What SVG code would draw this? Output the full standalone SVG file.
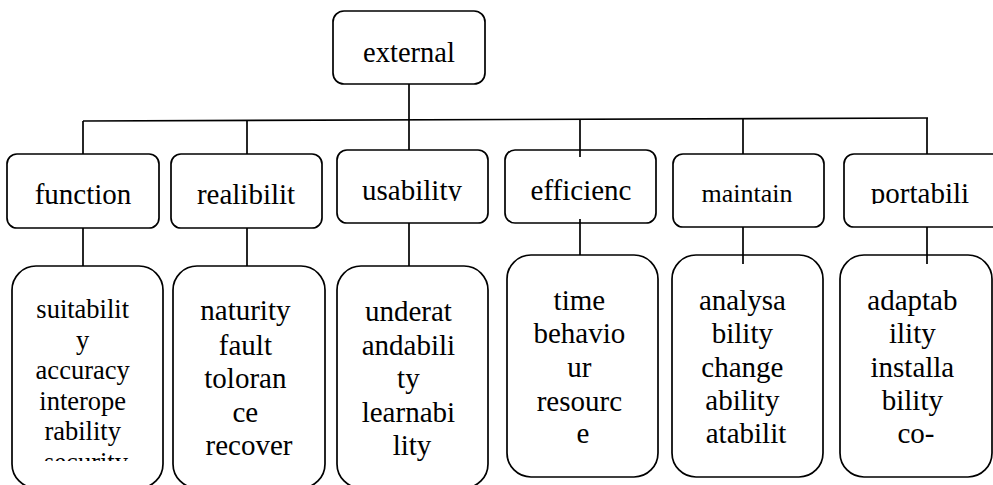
<svg xmlns="http://www.w3.org/2000/svg" width="993" height="485" viewBox="0 0 993 485">
<style>
.box{fill:#fff;stroke:#000;stroke-width:1.7}
.ln{stroke:#000;stroke-width:1.7;fill:none}
.tx{fill:#000;text-anchor:middle}
.t1{font-size:28.5px}
.t2{font-size:29px}
.t3{font-size:26.5px}
.t4{font-size:26px}
</style>
<defs>
<clipPath id="c-usab"><rect x="337" y="150" width="151" height="51"/></clipPath>
<clipPath id="c-port"><rect x="844" y="154" width="149" height="50"/></clipPath>
<clipPath id="c-func"><rect x="12" y="266" width="151" height="195"/></clipPath>
</defs>
<rect width="993" height="485" fill="#fff"/>
<g id="n-external">
<rect class="box" x="333" y="11" width="152" height="73" rx="11"/>
<text class="tx t1" font-family="Liberation Serif" x="409" y="62">external</text>
</g>
<g id="n-function">
<rect class="box" x="7" y="154" width="152" height="74" rx="10"/>
<text class="tx t2" font-family="Liberation Serif" x="83" y="204">function</text>
</g>
<g id="n-realibilit">
<rect class="box" x="171" y="154" width="151" height="74" rx="10"/>
<text class="tx t2" font-family="Liberation Serif" x="246" y="204">realibilit</text>
</g>
<g id="n-usability">
<rect class="box" x="337" y="150" width="151" height="73" rx="10"/>
<text class="tx t2" font-family="Liberation Serif" x="412" y="200" clip-path="url(#c-usab)">usability</text>
</g>
<g id="n-efficienc">
<rect class="box" x="505" y="150" width="151" height="73" rx="10"/>
<text class="tx t2" font-family="Liberation Serif" x="581" y="200">efficienc</text>
</g>
<g id="n-maintain">
<rect class="box" x="673" y="154" width="151" height="73" rx="10"/>
<text class="tx t4" font-family="Liberation Serif" x="747" y="202">maintain</text>
</g>
<g id="n-portabili">
<rect class="box" x="844" y="154" width="160" height="73" rx="10"/>
<text class="tx t2" font-family="Liberation Serif" x="920" y="203" clip-path="url(#c-port)">portabili</text>
</g>
<g id="n-func-sub">
<rect class="box" x="12" y="266" width="151" height="222" rx="24"/>
<text class="tx t3" font-family="Liberation Serif" clip-path="url(#c-func)">
<tspan x="86" y="318">suitabilit</tspan>
<tspan x="86" y="349">y</tspan>
<tspan x="86" y="379">accuracy</tspan>
<tspan x="86" y="410">interope</tspan>
<tspan x="86" y="440">rability</tspan>
<tspan x="86" y="471">security</tspan>
</text>
</g>
<g id="n-real-sub">
<rect class="box" x="173" y="266" width="152" height="222" rx="24"/>
<text class="tx t2" font-family="Liberation Serif">
<tspan x="249" y="320">naturity</tspan>
<tspan x="249" y="355">fault</tspan>
<tspan x="249" y="388">toloran</tspan>
<tspan x="249" y="422">ce</tspan>
<tspan x="249" y="455">recover</tspan>
</text>
</g>
<g id="n-usab-sub">
<rect class="box" x="337" y="266" width="151" height="222" rx="24"/>
<text class="tx t2" font-family="Liberation Serif">
<tspan x="412" y="321">underat</tspan>
<tspan x="412" y="355">andabili</tspan>
<tspan x="412" y="388">ty</tspan>
<tspan x="412" y="422">learnabi</tspan>
<tspan x="412" y="455">lity</tspan>
</text>
</g>
<g id="n-eff-sub">
<rect class="box" x="507" y="255" width="151" height="222" rx="24"/>
<text class="tx t2" font-family="Liberation Serif">
<tspan x="583" y="310">time</tspan>
<tspan x="583" y="343">behavio</tspan>
<tspan x="583" y="377">ur</tspan>
<tspan x="583" y="411">resourc</tspan>
<tspan x="583" y="443">e</tspan>
</text>
</g>
<g id="n-maint-sub">
<rect class="box" x="672" y="255" width="151" height="222" rx="24"/>
<text class="tx t2" font-family="Liberation Serif">
<tspan x="746" y="310">analysa</tspan>
<tspan x="746" y="343">bility</tspan>
<tspan x="746" y="377">change</tspan>
<tspan x="746" y="410">ability</tspan>
<tspan x="746" y="443">atabilit</tspan>
</text>
</g>
<g id="n-port-sub">
<rect class="box" x="840" y="255" width="152" height="222" rx="24"/>
<text class="tx t2" font-family="Liberation Serif">
<tspan x="916" y="310">adaptab</tspan>
<tspan x="916" y="343">ility</tspan>
<tspan x="916" y="377">installa</tspan>
<tspan x="916" y="410">bility</tspan>
<tspan x="916" y="443">co-</tspan>
</text>
</g>
<g id="connectors">
<line class="ln" x1="409" y1="84" x2="409" y2="120"/>
<line class="ln" x1="83" y1="121" x2="928" y2="118"/>
<line class="ln" x1="83" y1="121" x2="83" y2="154"/>
<line class="ln" x1="247" y1="120" x2="247" y2="154"/>
<line class="ln" x1="409" y1="120" x2="409" y2="150"/>
<line class="ln" x1="580" y1="119" x2="580" y2="157"/>
<line class="ln" x1="743" y1="119" x2="743" y2="154"/>
<line class="ln" x1="927" y1="118" x2="927" y2="154"/>
<line class="ln" x1="83" y1="228" x2="83" y2="266"/>
<line class="ln" x1="247" y1="228" x2="247" y2="266"/>
<line class="ln" x1="409" y1="223" x2="409" y2="266"/>
<line class="ln" x1="580" y1="219" x2="580" y2="255"/>
<line class="ln" x1="743" y1="227" x2="743" y2="264"/>
<line class="ln" x1="927" y1="227" x2="927" y2="264"/>
</g>
</svg>
